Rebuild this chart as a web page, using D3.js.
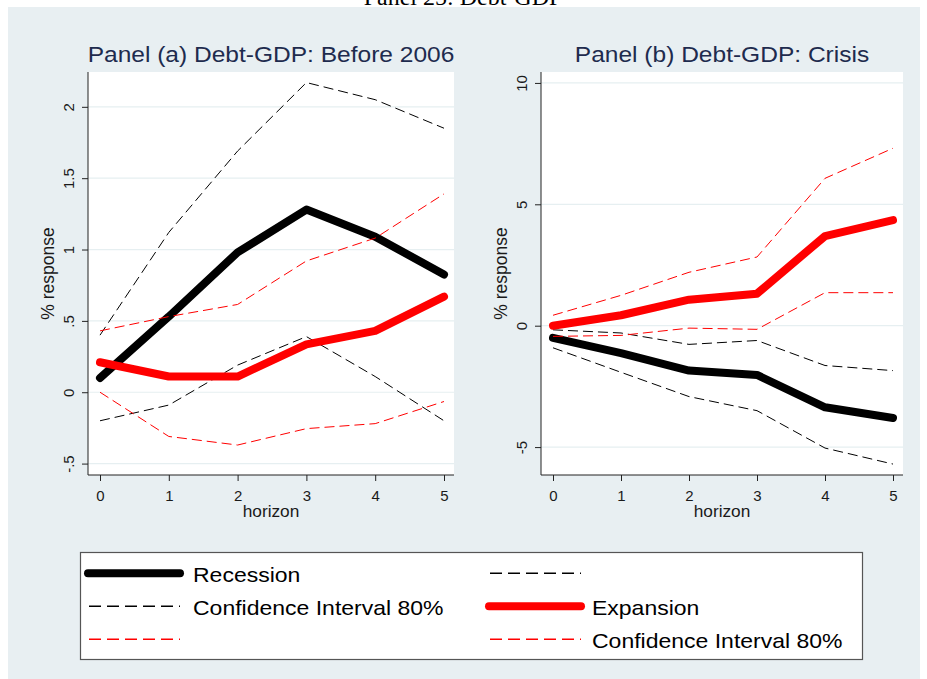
<!DOCTYPE html>
<html><head><meta charset="utf-8">
<script src="https://cdn.jsdelivr.net/npm/d3@7"></script>
<style>
html,body{margin:0;padding:0;background:#fff;}
svg{display:block;}
text{font-family:"Liberation Sans",Arial,sans-serif;}
</style></head>
<body>
<script>
// ---- data ----
const horizon = [0, 1, 2, 3, 4, 5];
const panelTitles = ["Panel (a) Debt-GDP: Before 2006", "Panel (b) Debt-GDP: Crisis"];
const aTicks = [-0.5, 0, 0.5, 1, 1.5, 2];
const aTickLabels = ["-.5", "0", ".5", "1", "1.5", "2"];
const bTicks = [-5, 0, 5, 10];
const bTickLabels = ["-5", "0", "5", "10"];
const aRecession = [0.10, 0.53, 0.98, 1.28, 1.09, 0.825];
const aRecUpper = [0.40, 1.12, 1.69, 2.17, 2.05, 1.85];
const aRecLower = [-0.20, -0.09, 0.19, 0.39, 0.11, -0.20];
const aExpansion = [0.21, 0.11, 0.11, 0.335, 0.43, 0.67];
const aExpUpper = [0.43, 0.53, 0.615, 0.92, 1.08, 1.39];
const aExpLower = [0.0, -0.31, -0.37, -0.255, -0.22, -0.065];
const bRecession = [-0.50, -1.13, -1.85, -2.03, -3.36, -3.80];
const bRecUpper = [-0.17, -0.30, -0.77, -0.61, -1.64, -1.85];
const bRecLower = [-0.91, -1.92, -2.92, -3.50, -5.04, -5.70];
const bExpansion = [0.0, 0.43, 1.07, 1.32, 3.69, 4.35];
const bExpUpper = [0.43, 1.25, 2.20, 2.83, 6.07, 7.31];
const bExpLower = [-0.44, -0.40, -0.10, -0.15, 1.36, 1.36];
const legendLabels = ["Recession", "", "Confidence Interval 80%", "Expansion", "", "Confidence Interval 80%"];

// ---- layout ----
const W = 927, H = 679;
const svg = d3.select("body").append("svg").attr("width", W).attr("height", H);
svg.append("rect").attr("x", 8).attr("y", 7).attr("width", 912).attr("height", 672).attr("fill", "#e8eff2");
svg.append("text").attr("x", 463).attr("y", 5).attr("text-anchor", "middle")
  .style("font-family", "'Liberation Serif','Times New Roman',serif").style("font-size", "24px")
  .attr("fill", "#000").text("Panel 25: Debt-GDP");

const styles = [
  {color: "#000", width: 8, dash: null},
  {color: "#000", width: 1, dash: "10,5"},
  {color: "#000", width: 1, dash: "10,5"},
  {color: "#ff0000", width: 8, dash: null},
  {color: "#ff0000", width: 1, dash: "10,5"},
  {color: "#ff0000", width: 1, dash: "10,5"}
];

const panels = [
  {x0: 88, x1: 454, y0: 72, y1: 475, dom: [-0.580, 2.244], ticks: aTicks, labels: aTickLabels, title: panelTitles[0],
   series: [aRecession, aRecUpper, aRecLower, aExpansion, aExpUpper, aExpLower]},
  {x0: 541, x1: 903, y0: 72, y1: 475, dom: [-6.15, 10.45], ticks: bTicks, labels: bTickLabels, title: panelTitles[1],
   series: [bRecession, bRecUpper, bRecLower, bExpansion, bExpUpper, bExpLower]}
];

panels.forEach(p => {
  const g = svg.append("g");
  const x = d3.scaleLinear().domain([0, 5]).range([p.x0 + 12, p.x1 - 10]);
  const y = d3.scaleLinear().domain(p.dom).range([p.y1, p.y0]);
  g.append("rect").attr("x", p.x0).attr("y", p.y0).attr("width", p.x1 - p.x0).attr("height", p.y1 - p.y0).attr("fill", "#fff");
  // gridlines
  g.selectAll(".grid").data(p.ticks).join("line")
    .attr("x1", p.x0).attr("x2", p.x1).attr("y1", d => y(d)).attr("y2", d => y(d))
    .attr("stroke", "#e6eff1").attr("stroke-width", 1.2);
  // series
  const line = d3.line().x((d, i) => x(horizon[i])).y(d => y(d));
  p.series.forEach((s, k) => {
    const st = styles[k];
    g.append("path").datum(s).attr("d", line).attr("fill", "none")
      .attr("stroke", st.color).attr("stroke-width", st.width)
      .attr("stroke-dasharray", st.dash).attr("stroke-linecap", st.dash ? "butt" : "round")
      .attr("stroke-linejoin", "round");
  });
  // y axis
  const ya = g.append("g").attr("transform", `translate(${p.x0},0)`)
    .call(d3.axisLeft(y).tickValues(p.ticks).tickSize(6).tickSizeOuter(0).tickFormat((d, i) => p.labels[i]));
  ya.select(".domain").attr("d", `M0,${p.y0}V${p.y1}`).attr("stroke", "#222");
  ya.selectAll(".tick line").attr("stroke", "#222");
  ya.selectAll(".tick text").attr("x", null).attr("dy", null)
    .attr("transform", "translate(-14.5,0) rotate(-90)").attr("text-anchor", "middle")
    .style("font-size", "15px").attr("fill", "#1a1a1a");
  // x axis
  const xa = g.append("g").attr("transform", `translate(0,${p.y1})`)
    .call(d3.axisBottom(x).tickValues(horizon).tickSize(6).tickSizeOuter(0).tickFormat(d3.format("d")));
  xa.select(".domain").attr("d", `M${p.x0},0H${p.x1}`).attr("stroke", "#222");
  xa.selectAll(".tick line").attr("stroke", "#222");
  xa.selectAll(".tick text").attr("y", 25.5).attr("dy", null).style("font-size", "15px").attr("fill", "#1a1a1a");
  // axis titles
  const cx = (p.x0 + p.x1) / 2, cy = (p.y0 + p.y1) / 2;
  g.append("text").attr("transform", `translate(${cx},${p.y1 + 42}) scale(1.08,1)`).attr("text-anchor", "middle")
    .style("font-size", "16px").attr("fill", "#1a1a1a").text("horizon");
  g.append("text").attr("transform", `translate(${p.x0 - 34},${cy}) rotate(-90)`).attr("text-anchor", "middle")
    .style("font-size", "17.5px").attr("fill", "#1a1a1a").text("% response");
  g.append("text").attr("transform", `translate(${cx},61.5) scale(1.1,1)`).attr("text-anchor", "middle")
    .style("font-size", "22.3px").attr("fill", "#1e2b4e").text(p.title);
});

// ---- legend ----
const lg = svg.append("g");
lg.append("rect").attr("x", 80.5).attr("y", 552.5).attr("width", 782).attr("height", 107)
  .attr("fill", "#fff").attr("stroke", "#555").attr("stroke-width", 1.2);
legendLabels.forEach((lab, i) => {
  const row = Math.floor(i / 2), col = i % 2;
  const ly = 573.3 + row * 33;
  const lx0 = 88 + col * 401, lx1 = lx0 + 92;
  const st = styles[i];
  lg.append("line").attr("x1", lx0 + (st.dash ? 1 : 0)).attr("x2", lx1).attr("y1", ly).attr("y2", ly)
    .attr("stroke", st.color).attr("stroke-width", st.dash ? 1.5 : 8)
    .attr("stroke-dasharray", st.dash ? "12,6" : null).attr("stroke-linecap", st.dash ? "butt" : "round");
  if (lab) lg.append("text").attr("transform", `translate(${193 + col * 399},${ly + 8.5}) scale(1.15,1)`)
    .style("font-size", "20px").attr("fill", "#000").text(lab);
});
</script>
</body></html>
